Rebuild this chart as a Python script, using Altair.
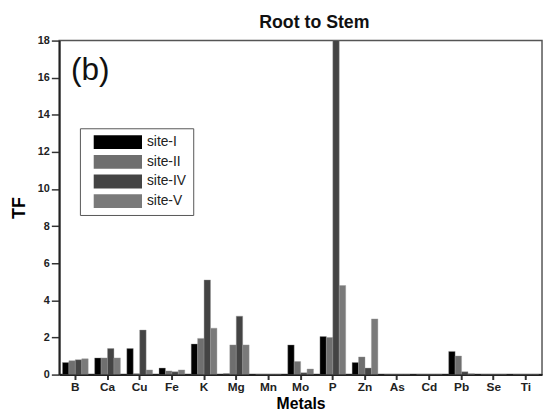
import altair as alt
import pandas as pd

metals = ["B", "Ca", "Cu", "Fe", "K", "Mg", "Mn", "Mo", "P", "Zn", "As", "Cd", "Pb", "Se", "Ti"]
sites = ["site-I", "site-II", "site-IV", "site-V"]
site_I = [0.65, 0.9, 1.4, 0.35, 1.65, 0.05, 0, 1.6, 2.05, 0.65, 0, 0, 1.25, 0, 0]
site_II = [0.75, 0.9, 0.05, 0.2, 1.95, 1.6, 0, 0.7, 2.0, 0.95, 0, 0, 1.0, 0, 0]
site_IV = [0.8, 1.4, 2.4, 0.15, 5.1, 3.15, 0, 0.1, 18.0, 0.35, 0, 0, 0.15, 0, 0]
site_V = [0.85, 0.9, 0.25, 0.25, 2.5, 1.6, 0, 0.3, 4.8, 3.0, 0, 0, 0.05, 0, 0]
colors = ["#000000", "#6f6f6f", "#444444", "#7a7a7a"]
y_ticks = [0, 2, 4, 6, 8, 10, 12, 14, 16, 18]

rows = []
for s, vals in zip(sites, [site_I, site_II, site_IV, site_V]):
    for m, v in zip(metals, vals):
        rows.append({"Metal": m, "Site": s, "TF": v})
df = pd.DataFrame(rows)

FONT = "Liberation Sans"

bars = alt.Chart(df).mark_bar(stroke="#999999", strokeWidth=0.4, clip=True).encode(
    x=alt.X("Metal:N", sort=metals, title="Metals",
            scale=alt.Scale(paddingInner=0.2, paddingOuter=0.1),
            axis=alt.Axis(labelAngle=0, labelFontSize=12, labelFontWeight="bold",
                          labelColor="#222", labelFont=FONT, tickSize=5, tickWidth=2,
                          tickColor="#333", domainColor="#222", domainWidth=2,
                          titleFontSize=16, titleFontWeight="bold", titleFont=FONT,
                          titlePadding=3, labelPadding=2)),
    xOffset=alt.XOffset("Site:N", sort=sites),
    y=alt.Y("TF:Q", title="TF",
            scale=alt.Scale(domain=[0, 18], nice=False),
            axis=alt.Axis(values=y_ticks, labelFontSize=11, labelFontWeight="bold",
                          labelColor="#222", labelFont=FONT, tickSize=8, tickWidth=1.5,
                          tickColor="#333", domainColor="#222", domainWidth=2,
                          titleFontSize=18, titleFontWeight="bold", titleFont=FONT,
                          titlePadding=9, labelPadding=2, grid=False)),
    color=alt.Color("Site:N", sort=sites,
                    scale=alt.Scale(domain=sites, range=colors),
                    legend=alt.Legend(title=None, orient="none", legendX=21, legendY=89,
                                      symbolType="M0,-1H7V1H0Z", symbolSize=196,
                                      symbolStrokeWidth=0, labelOffset=47,
                                      labelFontSize=14, labelFont=FONT, labelColor="#222",
                                      rowPadding=6, padding=7, strokeColor="#555",
                                      fillColor="white", cornerRadius=0)),
)

label = alt.Chart(pd.DataFrame({"t": ["(b)"]})).mark_text(
    align="left", baseline="alphabetic", fontSize=32, font=FONT, color="#111"
).encode(text="t:N", x=alt.value(12), y=alt.value(40))

chart = (bars + label).properties(
    width=490, height=339,
    title=alt.TitleParams("Root to Stem", anchor="start", frame="group", dx=203,
                          fontSize=18, fontWeight="bold", font=FONT, offset=3, color="#111"),
    autosize=alt.AutoSizeParams(type="none"),
    padding={"left": 52, "top": 30, "right": 1, "bottom": 42},
).configure_view(stroke="#555", strokeWidth=1.5)

chart.save("out.html", embed_options={"renderer": "svg", "actions": False})
